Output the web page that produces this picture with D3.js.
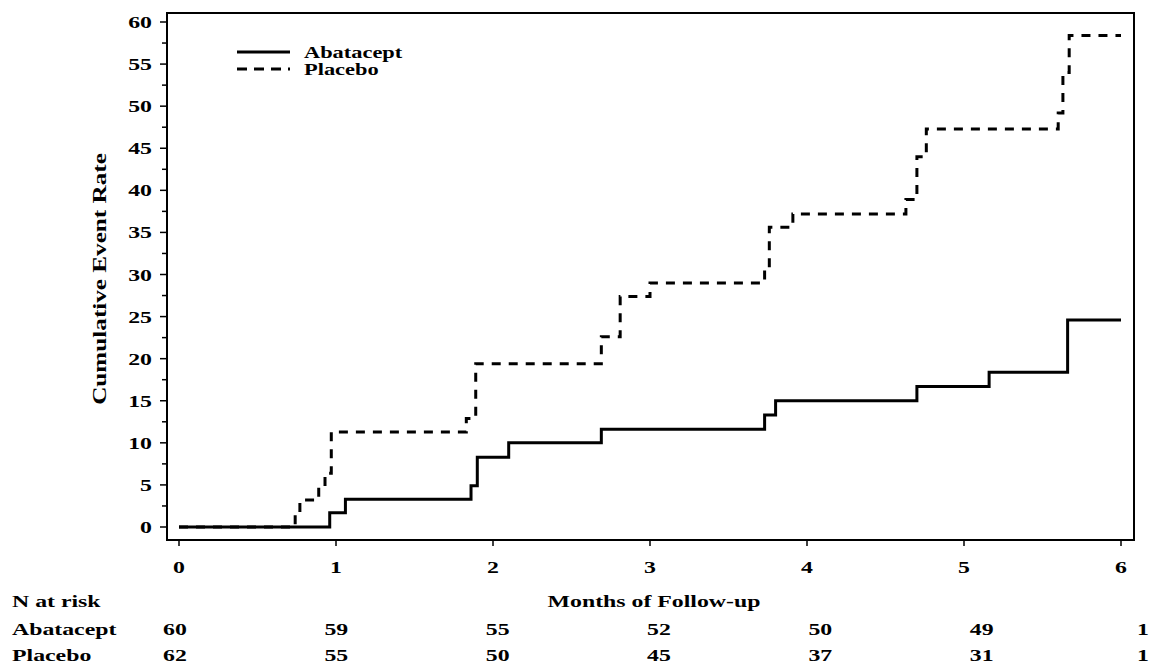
<!DOCTYPE html>
<html>
<head>
<meta charset="utf-8">
<script src="https://cdn.jsdelivr.net/npm/d3@7/dist/d3.min.js"></script>
<style>
  html, body { margin: 0; padding: 0; background: #fff; }
  svg { display: block; }
  text { font-family: "Liberation Serif", "Times New Roman", serif; font-weight: bold; fill: #000; }
</style>
</head>
<body>
<svg id="chart" width="1153" height="666"></svg>
<script>
// ---- data ----
const xTicks = [0, 1, 2, 3, 4, 5, 6];
const yTicks = [0, 5, 10, 15, 20, 25, 30, 35, 40, 45, 50, 55, 60];
const yMinorTicks = [2.5, 7.5, 12.5, 17.5, 22.5, 27.5, 32.5, 37.5, 42.5, 47.5, 52.5, 57.5];

const seriesNames = ["Abatacept", "Placebo"];

const abataceptMonths = [0, 0.96, 1.06, 1.86, 1.90, 2.10, 2.69, 3.73, 3.80, 4.70, 5.16, 5.66, 6.0];
const abataceptRate   = [0, 1.7, 3.3, 4.9, 8.3, 10.0, 11.6, 13.3, 15.0, 16.7, 18.4, 24.6, 24.6];

const placeboMonths = [0, 0.74, 0.77, 0.89, 0.93, 0.97, 1.83, 1.89, 2.69, 2.81, 3.00, 3.73, 3.76, 3.91, 4.63, 4.70, 4.76, 5.60, 5.63, 5.67, 6.0];
const placeboRate   = [0, 1.6, 3.2, 4.8, 6.4, 11.3, 12.9, 19.4, 22.6, 27.4, 29.0, 30.6, 35.6, 37.2, 38.9, 44.0, 47.3, 49.2, 54.0, 58.4, 58.4];

const riskMonths = [0, 1, 2, 3, 4, 5, 6];
const abataceptAtRisk = [60, 59, 55, 52, 50, 49, 1];
const placeboAtRisk   = [62, 55, 50, 45, 37, 31, 1];

const xTitle = "Months of Follow-up";
const yTitle = "Cumulative Event Rate";
const riskTitle = "N at risk";

// ---- layout ----
const svg = d3.select("#chart");
const x = d3.scaleLinear().domain([0, 6]).range([179, 1121]);
const y = d3.scaleLinear().domain([0, 60]).range([527, 22]);
const xRisk = d3.scaleLinear().domain([0, 6]).range([175, 1143]);
const frame = { left: 167, right: 1134, top: 13, bottom: 540 };
const SX = 1.4; // horizontal stretch of lettering

function label(g, str, px, py, anchor, size, rotate) {
  const t = g.append("g")
    .attr("transform", `translate(${px},${py})` + (rotate ? " rotate(-90)" : "") + ` scale(${SX},1)`);
  t.append("text")
    .attr("text-anchor", anchor || "start")
    .style("font-size", (size || 17) + "px")
    .text(str);
}

// frame
svg.append("rect")
  .attr("x", frame.left).attr("y", frame.top)
  .attr("width", frame.right - frame.left).attr("height", frame.bottom - frame.top)
  .attr("fill", "none").attr("stroke", "#000").attr("stroke-width", 2);

// y axis ticks
const yAxisG = svg.append("g");
yAxisG.selectAll("line.major").data(yTicks).join("line")
  .attr("class", "major")
  .attr("x1", frame.left - 7).attr("x2", frame.left)
  .attr("y1", d => y(d)).attr("y2", d => y(d))
  .attr("stroke", "#000").attr("stroke-width", 1.5);
yAxisG.selectAll("line.minor").data(yMinorTicks).join("line")
  .attr("class", "minor")
  .attr("x1", frame.left - 5).attr("x2", frame.left)
  .attr("y1", d => y(d)).attr("y2", d => y(d))
  .attr("stroke", "#000").attr("stroke-width", 1.5);
yTicks.forEach(d => label(yAxisG, String(d), 152, y(d) + 6, "end", 17));

// x axis ticks
const xAxisG = svg.append("g");
xAxisG.selectAll("line").data(xTicks).join("line")
  .attr("x1", d => x(d)).attr("x2", d => x(d))
  .attr("y1", frame.bottom).attr("y2", frame.bottom + 6)
  .attr("stroke", "#000").attr("stroke-width", 1.5);
xTicks.forEach(d => label(xAxisG, String(d), x(d), 573, "middle", 17));

// titles
label(svg, xTitle, 654, 607, "middle", 17);
label(svg, yTitle, 106, 279, "middle", 18, true);

// curves
const line = d3.line()
  .x(d => x(d[0])).y(d => y(d[1]))
  .curve(d3.curveStepAfter);

const abData = abataceptMonths.map((m, i) => [m, abataceptRate[i]]);
const plData = placeboMonths.map((m, i) => [m, placeboRate[i]]);

svg.append("path").datum(abData)
  .attr("d", line).attr("fill", "none")
  .attr("stroke", "#000").attr("stroke-width", 3);
svg.append("path").datum(plData)
  .attr("d", line).attr("fill", "none")
  .attr("stroke", "#000").attr("stroke-width", 3)
  .attr("stroke-dasharray", "9,8");

// legend
const lg = svg.append("g");
lg.append("line").attr("x1", 237).attr("x2", 290).attr("y1", 52).attr("y2", 52)
  .attr("stroke", "#000").attr("stroke-width", 3);
lg.append("line").attr("x1", 237).attr("x2", 290).attr("y1", 69).attr("y2", 69)
  .attr("stroke", "#000").attr("stroke-width", 3).attr("stroke-dasharray", "10,7");
label(lg, seriesNames[0], 304, 58, "start", 16);
label(lg, seriesNames[1], 304, 75, "start", 16);

// at-risk table
const rt = svg.append("g");
label(rt, riskTitle, 12, 607, "start", 17);
label(rt, seriesNames[0], 12, 635, "start", 17);
label(rt, seriesNames[1], 12, 661, "start", 17);
riskMonths.forEach((m, i) => {
  label(rt, String(abataceptAtRisk[i]), xRisk(m), 635, "middle", 17);
  label(rt, String(placeboAtRisk[i]), xRisk(m), 661, "middle", 17);
});
</script>
</body>
</html>
